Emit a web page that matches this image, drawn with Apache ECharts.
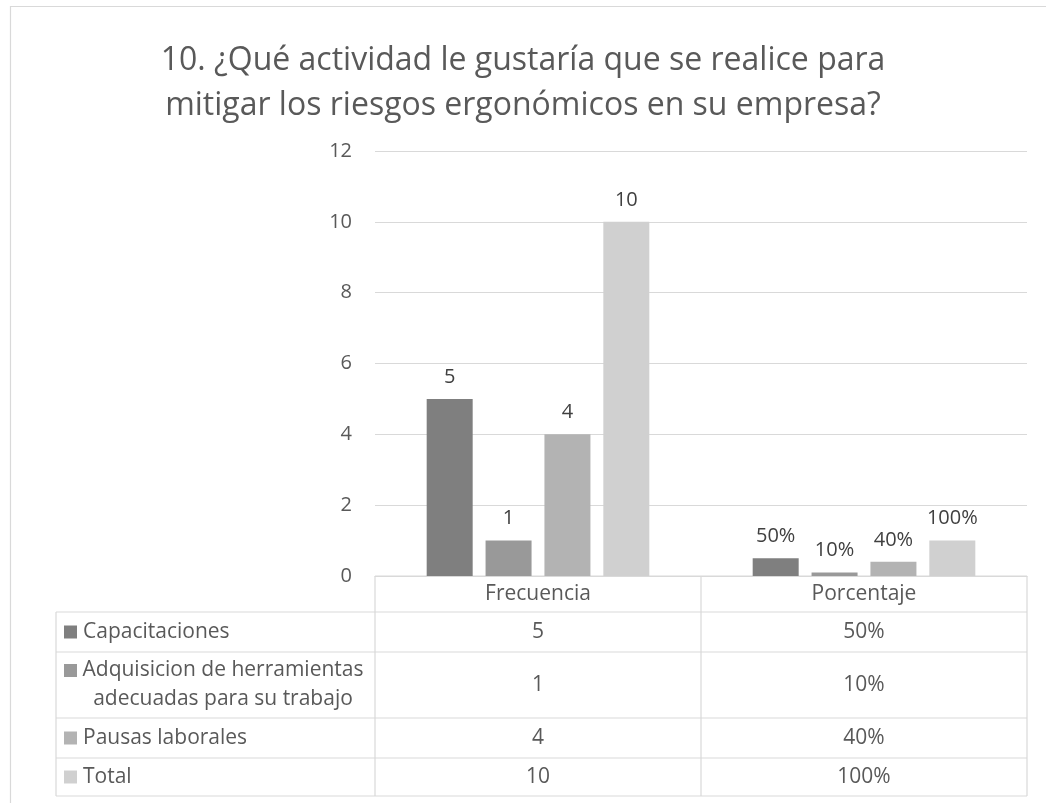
<!DOCTYPE html>
<html><head><meta charset="utf-8">
<script src="https://cdn.jsdelivr.net/npm/echarts@6/dist/echarts.min.js"></script>
<style>html,body{margin:0;padding:0;background:#fff}#c{width:1046px;height:803px}</style>
</head><body><div id="c"></div>
<script>
const titleText = '10. ¿Qué actividad le gustaría que se realice para\nmitigar los riesgos ergonómicos en su empresa?';
const categories = ['Frecuencia', 'Porcentaje'];
const seriesNames = ['Capacitaciones', 'Adquisicion de herramientas\nadecuadas para su trabajo', 'Pausas laborales', 'Total'];
const frecuencia = [5, 1, 4, 10];
const porcentaje = [0.5, 0.1, 0.4, 1];
const yMin = 0, yMax = 12, yInterval = 2;

const colors = ['#7f7f7f', '#999999', '#b3b3b3', '#d0d0d0'];
const FONT = '"Open Sans", "Noto Sans", sans-serif';
const TXT = '#595959';
const LINE = '#d9d9d9';

function fmt(v, catIdx) { return catIdx === 1 ? Math.round(v * 100) + '%' : String(v); }

const chart = echarts.init(document.getElementById('c'), null, { renderer: 'canvas' });
const gridL = 375, gridR = 1027, gridT = 151, gridB = 576;

chart.setOption({
  backgroundColor: '#fff',
  animation: false,
  title: {
    text: titleText, left: 'center', top: 33,
    textStyle: { fontFamily: FONT, fontSize: 32, fontWeight: 'normal', color: TXT, lineHeight: 45 }
  },
  grid: { left: gridL, right: 1046 - gridR, top: gridT, bottom: 803 - gridB, containLabel: false },
  xAxis: {
    type: 'category', data: categories,
    axisLine: { lineStyle: { color: LINE } },
    axisTick: { show: false }, axisLabel: { show: false }
  },
  yAxis: {
    type: 'value', min: yMin, max: yMax, interval: yInterval,
    axisLine: { show: false }, axisTick: { show: false },
    axisLabel: { fontFamily: FONT, fontSize: 20, color: TXT, margin: 23 },
    splitLine: { lineStyle: { color: LINE, width: 1 } }
  },
  series: seriesNames.map((n, i) => ({
    type: 'bar', name: n,
    data: [frecuencia[i], porcentaje[i]],
    barWidth: 46, barGap: '28%',
    itemStyle: { color: colors[i] },
    label: {
      show: true, position: 'top', distance: 12,
      fontFamily: FONT, fontSize: 20, color: '#404040',
      formatter: p => fmt(p.value, p.dataIndex)
    }
  }))
});

// Data table below the plot
const colX = categories.map(c => chart.convertToPixel({ xAxisIndex: 0 }, c));
const bandEdges = [gridL, (colX[0] + colX[1]) / 2, gridR];
const tableLeft = 56;
const rowLines = [576, 612, 652, 718, 758, 796];
const els = [];
function line(x1, y1, x2, y2) {
  els.push({ type: 'line', silent: true, shape: { x1, y1, x2, y2 }, style: { stroke: LINE, lineWidth: 1.2 } });
}
function text(t, x, y, align) {
  els.push({ type: 'text', silent: true, style: { text: t, x, y, font: '21px ' + FONT, fill: TXT,
    align, textAlign: align, verticalAlign: 'middle', textVerticalAlign: 'middle', lineHeight: 29 } });
}
// outer chart border (top + left)
line(10, 6.5, 1046, 6.5);
line(10.5, 6, 10.5, 803);
// horizontal table lines
line(gridL, rowLines[0], gridR, rowLines[0]);
for (let k = 1; k < rowLines.length; k++) line(tableLeft, rowLines[k], gridR, rowLines[k]);
// vertical lines
line(tableLeft, rowLines[1], tableLeft, rowLines[rowLines.length - 1]);
bandEdges.forEach(x => line(x, rowLines[0], x, rowLines[rowLines.length - 1]));
// header
categories.forEach((c, j) => text(c, colX[j], (rowLines[0] + rowLines[1]) / 2, 'center'));
// rows
seriesNames.forEach((n, i) => {
  const yc = (rowLines[i + 1] + rowLines[i + 2]) / 2;
  const multi = n.indexOf('\n') >= 0;
  const sqY = multi ? yc - 14.5 : yc;
  els.push({ type: 'rect', silent: true, shape: { x: 64, y: sqY - 6.5, width: 13, height: 13 }, style: { fill: colors[i] } });
  if (multi) text(n, 223, yc, 'center'); else text(n, 83, yc, 'left');
  text(fmt(frecuencia[i], 0), colX[0], yc, 'center');
  text(fmt(porcentaje[i], 1), colX[1], yc, 'center');
});
chart.setOption({ graphic: { elements: els } });
</script></body></html>
